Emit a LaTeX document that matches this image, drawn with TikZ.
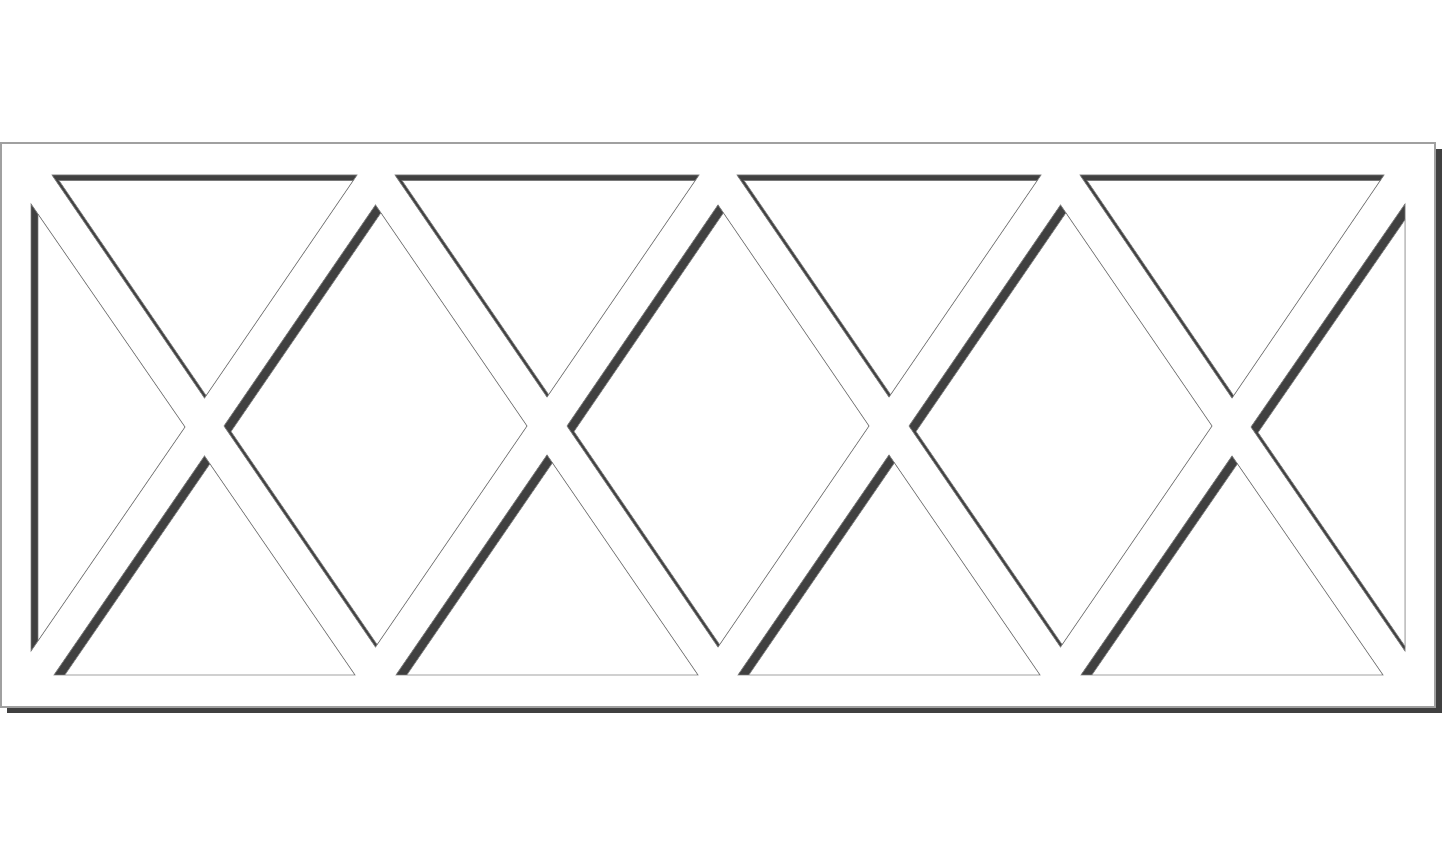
\documentclass[tikz,border=0pt]{standalone}
\definecolor{shadowgray}{HTML}{404040}
\definecolor{rimgray}{HTML}{7A7A7A}
\definecolor{edgegray}{HTML}{A0A0A0}
\tikzset{
  shadowfill/.style={fill=shadowgray},
  holefill/.style={fill=white, draw=rimgray, line width=0.3pt},
  rimline/.style={draw=rimgray, line width=0.35pt},
  panel/.style={fill=white, draw=edgegray, line width=0.6pt},
}
% one cut-out with its inner shadow on the top and left sides
\newcommand{\cutout}[1]{%
  \fill[shadowfill] #1 -- cycle;
  \begin{scope}
    \clip #1 -- cycle;
    \filldraw[holefill, shift={(7,5.5)}] #1 -- cycle;
  \end{scope}
  \draw[rimline] #1 -- cycle;
}
\begin{document}
\begin{tikzpicture}[x=0.5pt, y=-0.5pt]
    \useasboundingbox (0,0) rectangle (1445,854);

    % ---------------------------------------------
    % panel and its drop shadow
    \fill[shadowfill] (7,149) rectangle (1442,713);
    \filldraw[panel] (1,143) rectangle (1435,707);

    % ---------------------------------------------
    % half diamonds at both ends
    \cutout{(31,204) -- (185,427) -- (31,651)}
    \cutout{(1405,204) -- (1251,427) -- (1405,651)}

    % ---------------------------------------------
    % triangles pointing down, along the top
    \cutout{(52,175) -- (357,175) -- (204.5,398)}
    \cutout{(395,175) -- (699,175) -- (547,397)}
    \cutout{(737,175) -- (1041,175) -- (889,397)}
    \cutout{(1080,175) -- (1384,175) -- (1232,398)}

    % ---------------------------------------------
    % triangles pointing up, along the bottom
    \cutout{(204.5,456) -- (355,675) -- (54,675)}
    \cutout{(547,455) -- (698,675) -- (396,675)}
    \cutout{(889,455) -- (1040,675) -- (738,675)}
    \cutout{(1232,456) -- (1383,675) -- (1081,675)}

    % ---------------------------------------------
    % diamonds in between
    \cutout{(375.5,205) -- (527,426) -- (375.5,647) -- (224,426)}
    \cutout{(718,205) -- (869,426) -- (718,647) -- (567,426)}
    \cutout{(1060.5,205) -- (1212,426) -- (1060.5,647) -- (909,426)}

\end{tikzpicture}
\end{document}
